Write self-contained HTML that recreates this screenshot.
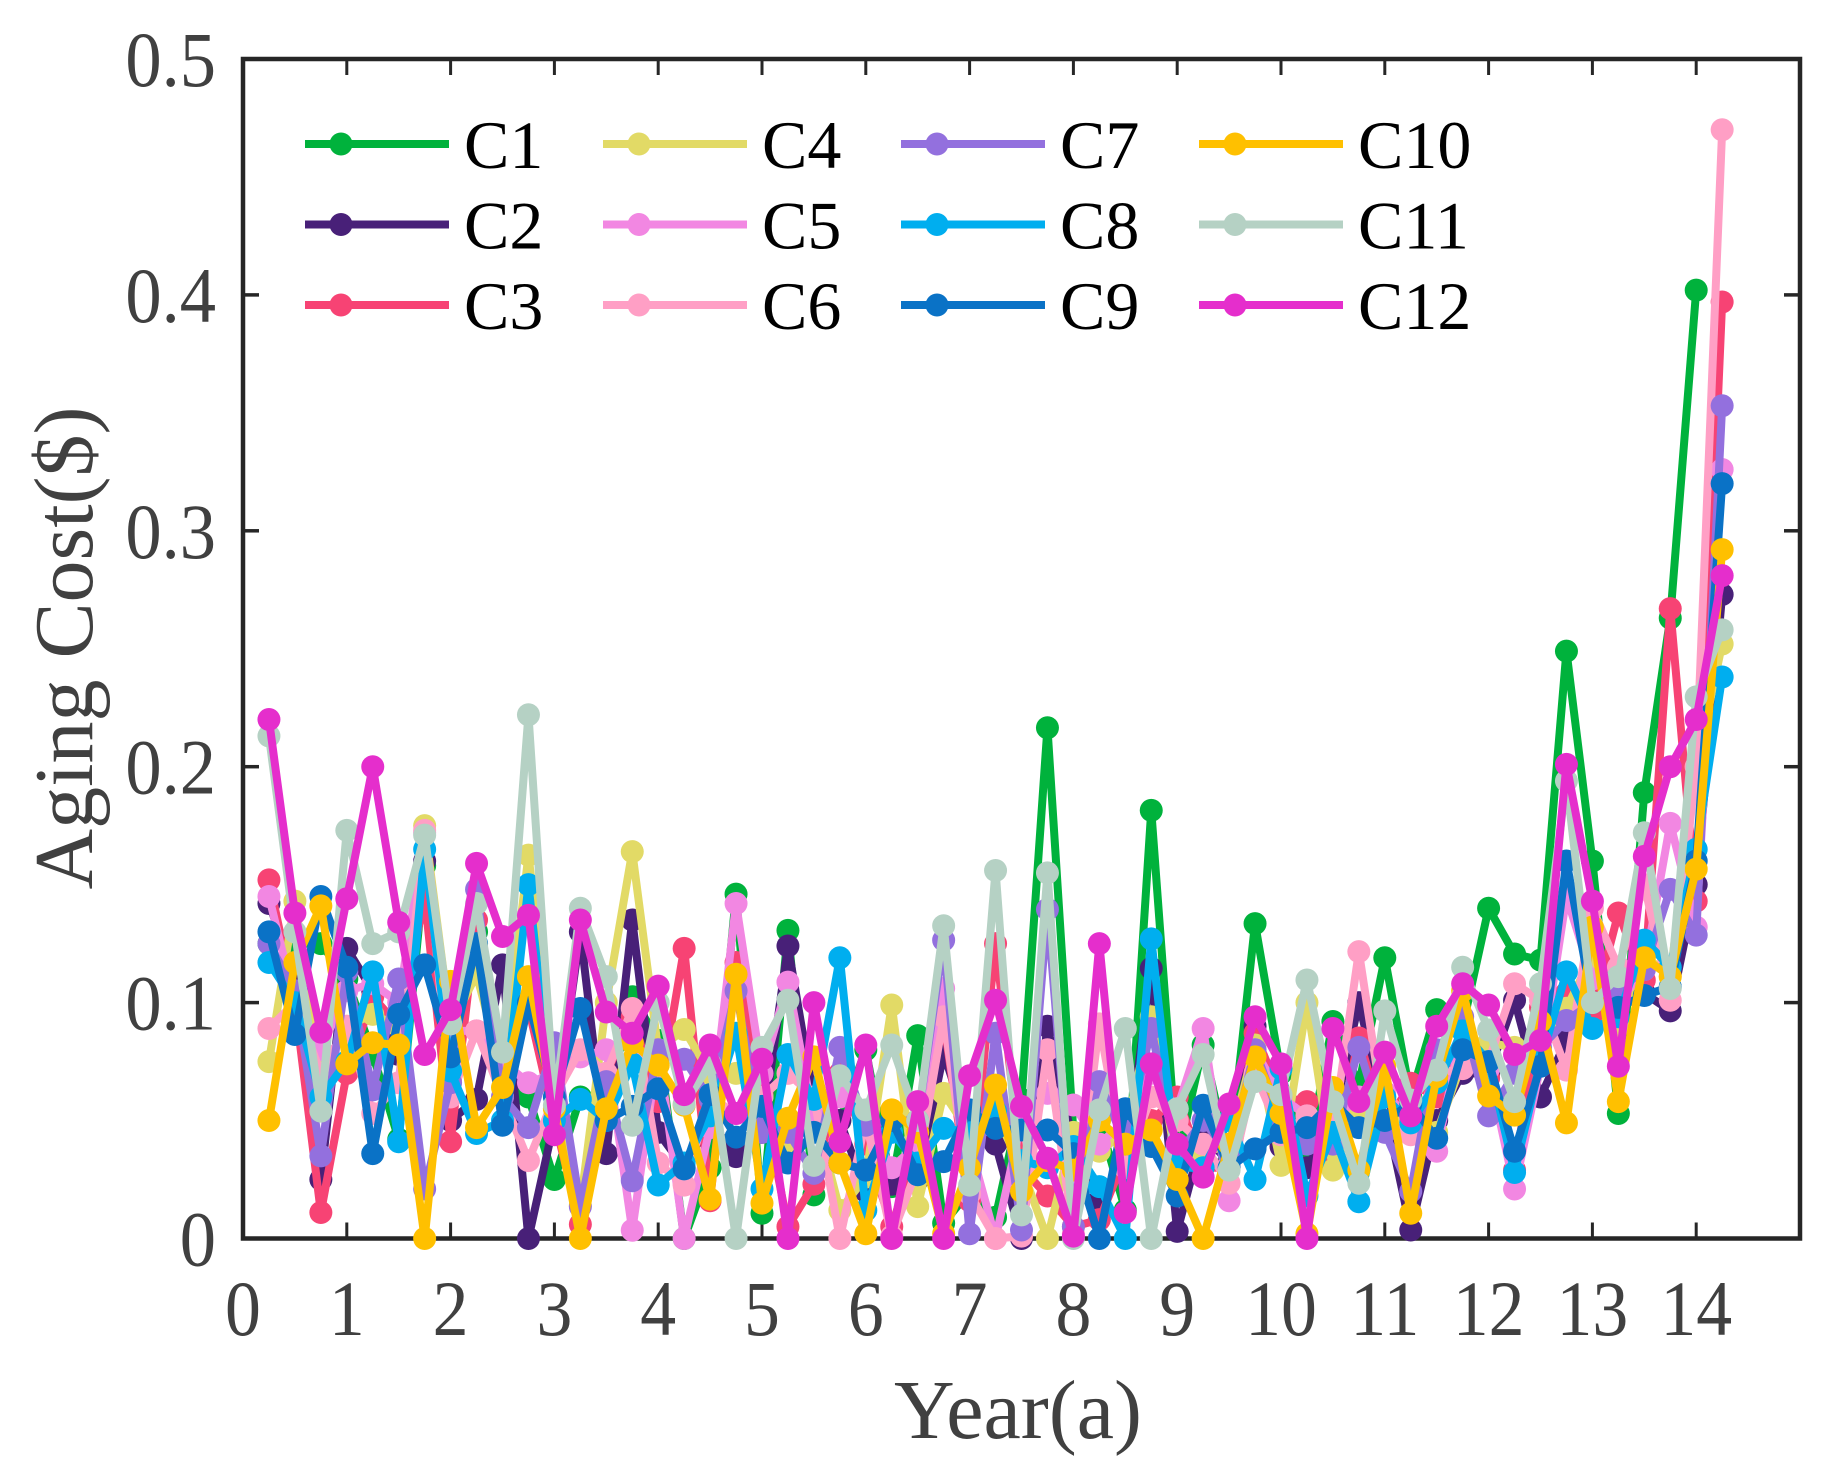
<!DOCTYPE html>
<html lang="en">
<head>
<meta charset="utf-8">
<title>Aging Cost by Year</title>
<style>
html,body{margin:0;padding:0;background:#fff;}
svg{display:block;}
text{font-family:"Liberation Serif",serif;}
</style>
</head>
<body>
<svg id="chart" xmlns="http://www.w3.org/2000/svg" width="1846" height="1475" viewBox="0 0 1846 1475">
<rect x="0" y="0" width="1846" height="1475" fill="#fff"/>
<g id="axes"></g>
<g id="series"></g>
<g id="legend"></g>
<text x="1018" y="1438" font-size="84" fill="#404040" text-anchor="middle">Year(a)</text>
<text transform="translate(92,648) rotate(-90)" font-size="84" fill="#404040" text-anchor="middle">Aging Cost($)</text>
</svg>
<script>
const seriesNames = ["C1","C2","C3","C4","C5","C6","C7","C8","C9","C10","C11","C12"];
const seriesColors = ["#00B23C","#482078","#F74374","#E2DA66","#F287E2","#FF9FC5","#9370DE","#00AEEF","#0A72C6","#FFC000","#B5D1C4","#E52ECC"];
const xTickLabels = ["0","1","2","3","4","5","6","7","8","9","10","11","12","13","14"];
const yTickLabels = ["0","0.1","0.2","0.3","0.4","0.5"];
const stepYears = [0.25];

const c1 = [.125,.125,.125,.11,.078,.042,.158,.085,.13,.07,.06,.025,.06,.055,.1025,.084,0,.03,.146,.0107,.1306,.0185,.05,.08,.022,.086,.0065,.02,.009,.059,.2165,.045,.05,.012,.1815,.033,.082,.033,.1335,.07,.033,.092,.065,.119,.06,.097,.09,.14,.1206,.118,.249,.16,.053,.189,.263,.402];
const c2 = [.142,.112,.025,.123,.105,.078,.16,.05,.059,.116,0,.05,.13,.036,.135,.045,.03,.05,.0347,.045,.124,.059,.05,.02,.023,.025,.0785,.045,.04,0,.09,.04,.016,.03,.1145,.003,.0445,.032,.09,.039,.03,.05,.1,.055,.0036,.05,.07,.07,.101,.06,.084,.11,.101,.104,.0965,.15,.273];
const c3 = [.152,.1,.011,.07,.1025,.09,.145,.041,.135,.07,.098,.05,.006,.07,.094,.058,.123,.016,.117,.0615,.005,.023,.07,.04,.005,.04,.0926,.016,.125,.03,.018,.005,.008,.035,.05,.06,.03,.03,.087,.06,.058,.033,.085,.047,.0658,.06,.09,.068,.029,.098,.104,.0955,.138,.1095,.267,.143,.397];
const c4 = [.075,.143,.07,.09,.095,.09,.175,.09,.112,.07,.1625,.07,.014,.1,.164,.08,.0886,.07,.07,.06,.04,.0545,.012,.026,.099,.0135,.0615,.045,.053,.03,0,.045,.037,.045,.094,.03,.036,.04,.082,.031,.1,.029,.055,.06,.045,.045,.075,.083,.081,.084,.0976,.12,.09,.12,.111,.2,.252];
const c5 = [.145,.1,.08,.105,.108,.1,.172,.088,.088,.075,.066,.07,.077,.08,.0035,.08,0,.047,.142,.07,.1087,.05,.06,.05,.03,.04,.106,.04,0,.05,.0615,.0566,.04,.05,.07,.055,.089,.016,.08,.06,.052,.05,.06,.062,.05,.037,.09,.072,.021,.073,.145,.11,.1,.114,.176,.132,.326];
const c6 = [.089,.1,.07,.09,.053,.066,.173,.06,.088,.06,.033,.06,.08,.07,.0975,.032,.0226,.06,.053,.06,.07,.06,0,.05,.001,.03,.094,.019,0,.001,.08,.002,.091,.03,.06,.05,.04,.0234,.07,.044,.052,.045,.1216,.05,.044,.07,.072,.075,.108,.101,.0714,.14,.115,.15,.101,.2,.47];
const c7 = [.125,.105,.035,.113,.063,.11,.021,.066,.148,.06,.047,.083,.0135,.0665,.0245,.08,.076,.059,.105,.045,.045,.0276,.081,.048,.05,.05,.1265,.002,.087,.0036,.1395,.005,.0665,.04,.089,.035,.05,.036,.08,.05,.04,.04,.081,.045,.02,.08,.094,.052,.07,.081,.0924,.1,.105,.114,.148,.1286,.353];
const c8 = [.117,.1,.06,.075,.113,.041,.165,.071,.0445,.05,.15,.05,.059,.05,.074,.0227,.032,.052,.087,.021,.078,.059,.119,.012,.045,.032,.0467,.045,.054,.033,.03,.039,.022,0,.127,.03,.03,.05,.025,.072,.018,.045,.0156,.06,.049,.066,.088,.075,.028,.075,.113,.089,.094,.1265,.115,.165,.238];
const c9 = [.13,.0865,.145,.115,.036,.095,.116,.077,.125,.048,.1,.06,.0975,.05,.056,.0635,.0295,.061,.043,.056,.032,.045,.032,.029,.05,.027,.0326,.0545,.0467,.046,.046,.036,0,.055,.039,.018,.0565,.03,.038,.045,.047,.058,.047,.05,.057,.0425,.08,.075,.037,.073,.16,.1,.098,.103,.1067,.16,.32];
const c10 = [.05,.117,.141,.074,.083,.082,0,.109,.047,.064,.111,.055,0,.055,.083,.0735,.0565,.0167,.112,.015,.051,.077,.032,.002,.0545,.045,.002,.03,.065,.02,.033,.029,.05,.04,.046,.025,0,.04,.077,.053,.002,.064,.029,.073,.0107,.0686,.105,.0604,.0523,.092,.049,.132,.058,.119,.111,.1566,.292];
const c11 = [.213,.13,.054,.173,.125,.13,.171,.091,.142,.079,.222,.0565,.14,.111,.048,.1,.057,.074,0,.081,.101,.031,.069,.0545,.082,.05,.1326,.0226,.156,.01,.155,0,.0545,.089,0,.055,.078,.029,.0665,.061,.1096,.058,.0234,.0965,.0587,.0714,.115,.0884,.058,.108,.194,.1,.111,.172,.106,.2296,.258];
const c12 = [.22,.138,.0875,.144,.2,.134,.078,.097,.159,.128,.137,.044,.135,.096,.087,.107,.061,.082,.053,.076,0,.1,.041,.082,0,.058,0,.069,.101,.056,.034,.001,.125,.011,.074,.04,.026,.057,.094,.074,0,.089,.058,.079,.052,.09,.108,.099,.078,.084,.201,.143,.073,.162,.2,.22,.281];
const seriesValues = [c1,c2,c3,c4,c5,c6,c7,c8,c9,c10,c11,c12];

const NS = "http://www.w3.org/2000/svg";
const plotLeft = 243, plotRight = 1800, plotTop = 59, plotBottom = 1238.5;
const xMax = 15, yMax = 0.5;
function xScale(v){ return plotLeft + v / xMax * (plotRight - plotLeft); }
function yScale(v){ return plotBottom - v / yMax * (plotBottom - plotTop); }
function make(tag, attrs, parent){
  const el = document.createElementNS(NS, tag);
  for (const k in attrs) el.setAttribute(k, attrs[k]);
  parent.appendChild(el);
  return el;
}

const axes = document.getElementById("axes");
const frame = make("rect", {x:plotLeft, y:plotTop, width:plotRight-plotLeft, height:plotBottom-plotTop, fill:"none", stroke:"#262626", "stroke-width":4.5}, axes);



xTickLabels.forEach(function(label){
  const v = Number(label);
  const x = xScale(v);
  if (v > 0) {
    const b = make("line", {x1:x, x2:x, y1:plotBottom, y2:plotBottom-16, stroke:"#262626", "stroke-width":3}, axes);
    
    
    const t = make("line", {x1:x, x2:x, y1:plotTop, y2:plotTop+16, stroke:"#262626", "stroke-width":3}, axes);
    
    
  }
  const txt = make("text", {transform:"translate(" + x + ",1335) scale(0.92,1)", "font-size":78, fill:"#404040", "text-anchor":"middle"}, axes);
  txt.textContent = label;
  
  
});

yTickLabels.forEach(function(label){
  const v = Number(label);
  const y = yScale(v);
  if (v > 0 && v < yMax) {
    const l = make("line", {x1:plotLeft, x2:plotLeft+16, y1:y, y2:y, stroke:"#262626", "stroke-width":3.5}, axes);
    
    
    const r = make("line", {x1:plotRight, x2:plotRight-16, y1:y, y2:y, stroke:"#262626", "stroke-width":3.5}, axes);
    
    
  }
  const txt = make("text", {transform:"translate(216," + (y + 27) + ") scale(0.93,1)", "font-size":78, fill:"#404040", "text-anchor":"end"}, axes);
  txt.textContent = label;
  
  
});

const seriesRoot = document.getElementById("series");
seriesValues.forEach(function(values, s){
  const g = make("g", {}, seriesRoot);
  
  
  const pts = values.map(function(v, i){ return xScale((i + 1) * stepYears[0]) + "," + yScale(v); }).join(" ");
  const line = make("polyline", {points:pts, fill:"none", stroke:seriesColors[s], "stroke-width":8, "stroke-linejoin":"round"}, g);
  
  
  values.forEach(function(v, i){
    const c = make("circle", {cx:xScale((i + 1) * stepYears[0]), cy:yScale(v), r:11.5, fill:seriesColors[s]}, g);
    
    
  });
});

const legendRoot = document.getElementById("legend");
const legendColumnLeft = 305, legendColumnStep = 298, legendRowTop = 144, legendRowStep = 80.5;
seriesNames.forEach(function(name, s){
  const col = Math.floor(s / 3), row = s % 3;
  const lx = legendColumnLeft + col * legendColumnStep;
  const ly = legendRowTop + row * legendRowStep;
  const g = make("g", {}, legendRoot);
  
  
  make("line", {x1:lx, x2:lx+144, y1:ly, y2:ly, stroke:seriesColors[s], "stroke-width":8}, g);
  make("circle", {cx:lx+36, cy:ly, r:11.5, fill:seriesColors[s]}, g);
  const t = make("text", {x:lx+159, y:ly+24, "font-size":68, fill:"#000"}, g);
  t.textContent = name;
});
</script>
</body>
</html>
